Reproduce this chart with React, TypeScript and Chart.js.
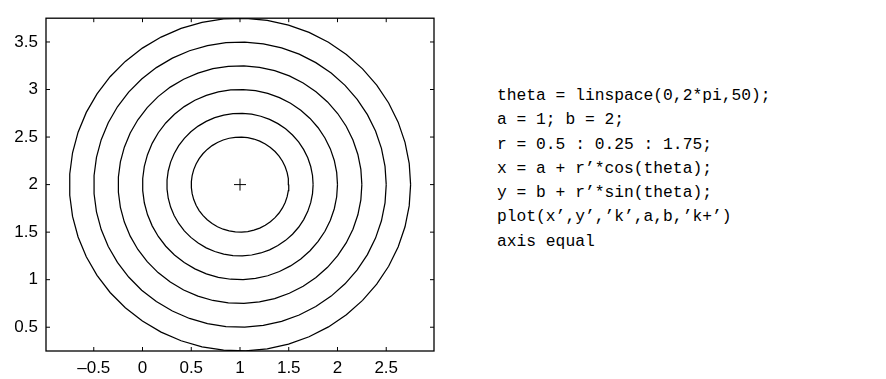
import { useEffect, useRef } from "react";
import { Chart, registerables } from "chart.js";

Chart.register(...registerables);

// Circle parameters, as in the MATLAB snippet shown next to the plot
const THETA_COUNT = 50;
const CENTER_X = 1;
const CENTER_Y = 2;
const RADII = [0.5, 0.75, 1, 1.25, 1.5, 1.75];

// Axis limits and tick values
const X_LIMITS = [-0.99, 2.99];
const Y_LIMITS = [0.25, 3.75];
const X_TICKS = [-0.5, 0, 0.5, 1, 1.5, 2, 2.5];
const Y_TICKS = [0.5, 1, 1.5, 2, 2.5, 3, 3.5];

const CODE_LINES = [
  "theta = linspace(0,2*pi,50);",
  "a = 1; b = 2;",
  "r = 0.5 : 0.25 : 1.75;",
  "x = a + r\u2019*cos(theta);",
  "y = b + r\u2019*sin(theta);",
  "plot(x\u2019,y\u2019,\u2019k\u2019,a,b,\u2019k+\u2019)",
  "axis equal",
];

const CANVAS_W = 470;
const CANVAS_H = 379;
const TICK_FONT = { family: "'Liberation Sans', Arial, Helvetica, sans-serif", size: 17 };

// theta = linspace(0, 2*pi, 50)
const theta = Array.from({ length: THETA_COUNT }, (_, i) => (2 * Math.PI * i) / (THETA_COUNT - 1));

const formatTick = (v: number) => (v < 0 ? "\u2013" + String(Math.abs(v)) : String(v));

// Box with inward-pointing ticks on all four sides
const boxTicks = {
  id: "boxTicks",
  afterDraw(chart: any) {
    const { ctx, chartArea } = chart;
    const xs = chart.scales.x;
    const ys = chart.scales.y;
    const len = 4;
    ctx.save();
    ctx.strokeStyle = "#000";
    ctx.lineWidth = 1.3;
    ctx.strokeRect(chartArea.left, chartArea.top, chartArea.right - chartArea.left, chartArea.bottom - chartArea.top);
    ctx.lineWidth = 1;
    ctx.beginPath();
    for (const v of X_TICKS) {
      const px = xs.getPixelForValue(v);
      ctx.moveTo(px, chartArea.bottom);
      ctx.lineTo(px, chartArea.bottom - len);
      ctx.moveTo(px, chartArea.top);
      ctx.lineTo(px, chartArea.top + len);
    }
    for (const v of Y_TICKS) {
      const py = ys.getPixelForValue(v);
      ctx.moveTo(chartArea.left, py);
      ctx.lineTo(chartArea.left + len, py);
      ctx.moveTo(chartArea.right, py);
      ctx.lineTo(chartArea.right - len, py);
    }
    ctx.stroke();
    ctx.restore();
  },
};

export default function App() {
  const canvasRef = useRef<HTMLCanvasElement | null>(null);

  useEffect(() => {
    if (!canvasRef.current) return;
    const circles = RADII.map((r) => ({
      data: theta.map((t) => ({ x: CENTER_X + r * Math.cos(t), y: CENTER_Y + r * Math.sin(t) })),
      showLine: true,
      borderColor: "#000",
      borderWidth: 1.25,
      pointRadius: 0,
      tension: 0,
      fill: false,
    }));
    const center = {
      data: [{ x: CENTER_X, y: CENTER_Y }],
      showLine: false,
      pointStyle: "cross" as const,
      pointRadius: 6,
      borderColor: "#000",
      borderWidth: 1,
      backgroundColor: "#000",
    };

    const chart = new Chart(canvasRef.current, {
      type: "scatter",
      data: { datasets: [...circles, center] },
      options: {
        responsive: false,
        animation: false,
        layout: { padding: { top: 10.5, right: 36, left: 0, bottom: 0 } },
        plugins: { legend: { display: false }, tooltip: { enabled: false } },
        scales: {
          x: {
            type: "linear",
            min: X_LIMITS[0],
            max: X_LIMITS[1],
            grid: { display: false, drawTicks: false },
            border: { display: false },
            afterBuildTicks: (s: any) => {
              s.ticks = X_TICKS.map((v) => ({ value: v }));
            },
            afterFit: (s: any) => {
              s.height = 28;
            },
            ticks: {
              autoSkip: false,
              maxRotation: 0,
              padding: 7,
              color: "#000",
              font: TICK_FONT,
              callback: (v: any) => formatTick(Number(v)),
            },
          },
          y: {
            type: "linear",
            min: Y_LIMITS[0],
            max: Y_LIMITS[1],
            grid: { display: false, drawTicks: false },
            border: { display: false },
            afterBuildTicks: (s: any) => {
              s.ticks = Y_TICKS.map((v) => ({ value: v }));
            },
            afterFit: (s: any) => {
              s.width = 46;
            },
            ticks: {
              autoSkip: false,
              padding: 8,
              color: "#000",
              font: TICK_FONT,
              callback: (v: any) => formatTick(Number(v)),
            },
          },
        },
      },
      plugins: [boxTicks],
    });
    return () => chart.destroy();
  }, []);

  return (
    <div style={{ position: "absolute", left: 0, top: 0, width: 886, height: 379, background: "#fff" }}>
      <canvas ref={canvasRef} width={CANVAS_W} height={CANVAS_H} style={{ position: "absolute", left: 0, top: 0 }} />
      <pre
        style={{
          position: "absolute",
          left: 497,
          top: 84,
          margin: 0,
          fontFamily: "'Liberation Mono', 'DejaVu Sans Mono', monospace",
          fontSize: 16.3,
          lineHeight: "24.3px",
          color: "#000",
        }}
      >
        {CODE_LINES.join("\n")}
      </pre>
    </div>
  );
}
